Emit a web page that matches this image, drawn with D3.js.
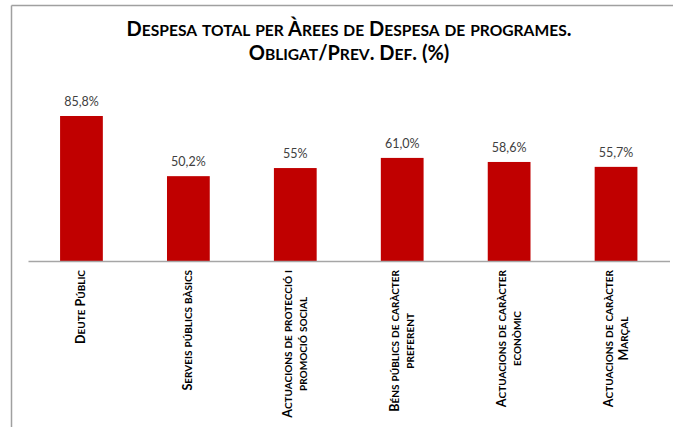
<!DOCTYPE html>
<html>
<head>
<meta charset="utf-8">
<script src="https://cdn.jsdelivr.net/npm/d3@7"></script>
<style>
  body { margin: 0; background: #fff; }
  text { font-family: Lato, "Open Sans", sans-serif; }
</style>
</head>
<body>
<svg></svg>
<script>
// Data
var categories = ["Deute Públic", "Serveis públics bàsics", "Actuacions de protecció i promoció social",
    "Béns públics de caràcter preferent", "Actuacions de caràcter econòmic", "Actuacions de caràcter Marçal"];
var categoryLines = [
    ["Deute Públic"],
    ["Serveis públics bàsics"],
    ["Actuacions de protecció i", "promoció social"],
    ["Béns públics de caràcter", "preferent"],
    ["Actuacions de caràcter", "econòmic"],
    ["Actuacions de caràcter", "Marçal"]
];
var values = [85.8, 50.2, 55.0, 61.0, 58.6, 55.7];
var valueLabels = ["85,8%", "50,2%", "55%", "61,0%", "58,6%", "55,7%"];
var titleLines = ["Despesa total per Àrees de Despesa de programes.", "Obligat/Prev. Def. (%)"];

var W = 673, H = 427;

var svg = d3.select("svg")
    .attr("width", W)
    .attr("height", H);

// small caps by hand: lowercase letters drawn as smaller capitals
// returns the tspans so the first one can be positioned
function smallCaps(sel, str, big, small) {
    var runs = [];
    for (var c of str) {
        var isLow = c !== c.toUpperCase();
        var last = runs[runs.length - 1];
        if (last && last.low === isLow) last.s += c;
        else runs.push({low: isLow, s: c});
    }
    return runs.map(r => sel.append("tspan")
        .style("font-size", (r.low ? small : big) + "px")
        .text(r.s.toUpperCase()));
}

// Frame (only top and left edges visible)
svg.append("line")
    .attr("x1", 11.5).attr("y1", 5.5).attr("x2", W).attr("y2", 5.5)
    .attr("stroke", "#a0a0a0").attr("stroke-width", 1.5);
svg.append("line")
    .attr("x1", 11.5).attr("y1", 5.5).attr("x2", 11.5).attr("y2", H)
    .attr("stroke", "#a0a0a0").attr("stroke-width", 1.5);

// Title
titleLines.forEach((line, i) => {
    var t = svg.append("text")
        .attr("class", "title")
        .attr("x", 349)
        .attr("y", 36 + i * 24)
        .attr("text-anchor", "middle")
        .style("font-weight", "bold")
        .style("fill", "#000");
    smallCaps(t, line, 20, 15.6);
});

// Scales
var x = d3.scaleBand()
    .domain(categories)
    .range([28, 669.5])
    .paddingInner(0.6)
    .paddingOuter(0.3);

var y = d3.scaleLinear()
    .domain([0, 100])
    .range([261, 92]);

// Bars
svg.selectAll("rect.bar")
    .data(values)
    .enter()
    .append("rect")
    .attr("class", "bar")
    .attr("x", (d, i) => x(categories[i]))
    .attr("y", d => y(d))
    .attr("width", x.bandwidth())
    .attr("height", d => y(0) - y(d))
    .attr("fill", "#c00000");

// Value labels
svg.selectAll("text.val")
    .data(values)
    .enter()
    .append("text")
    .attr("class", "val")
    .attr("x", (d, i) => x(categories[i]) + x.bandwidth() / 2)
    .attr("y", d => y(d) - 10)
    .attr("text-anchor", "middle")
    .style("font-size", "12.5px")
    .style("fill", "#404040")
    .text((d, i) => valueLabels[i]);

// Baseline axis
var xAxis = svg.append("g")
    .attr("transform", `translate(0,${y(0)})`)
    .call(d3.axisBottom(x).tickSize(0).tickFormat(""));
xAxis.select(".domain")
    .attr("stroke", "#a6a6a6")
    .attr("stroke-width", 1.3);

// Category labels, rotated, block top-aligned, lines centered in block
var lineH = 15;
categoryLines.forEach((lines, i) => {
    var cx = x(categories[i]) + x.bandwidth() / 2;
    var g = svg.append("g")
        .attr("transform", `translate(${cx},270) rotate(-90)`);
    var texts = lines.map((l, j) => {
        var t = g.append("text")
            .attr("y", (j - (lines.length - 1) / 2) * lineH + 4)
            .attr("text-anchor", "middle")
            .style("font-weight", "bold")
            .style("fill", "#000");
        smallCaps(t, l, 12.5, 10);
        return t;
    });
    // block width = longest line; center lines in that block
    var bw = d3.max(texts, t => t.node().getComputedTextLength());
    texts.forEach(t => t.attr("x", -bw / 2));
});
</script>
</body>
</html>
